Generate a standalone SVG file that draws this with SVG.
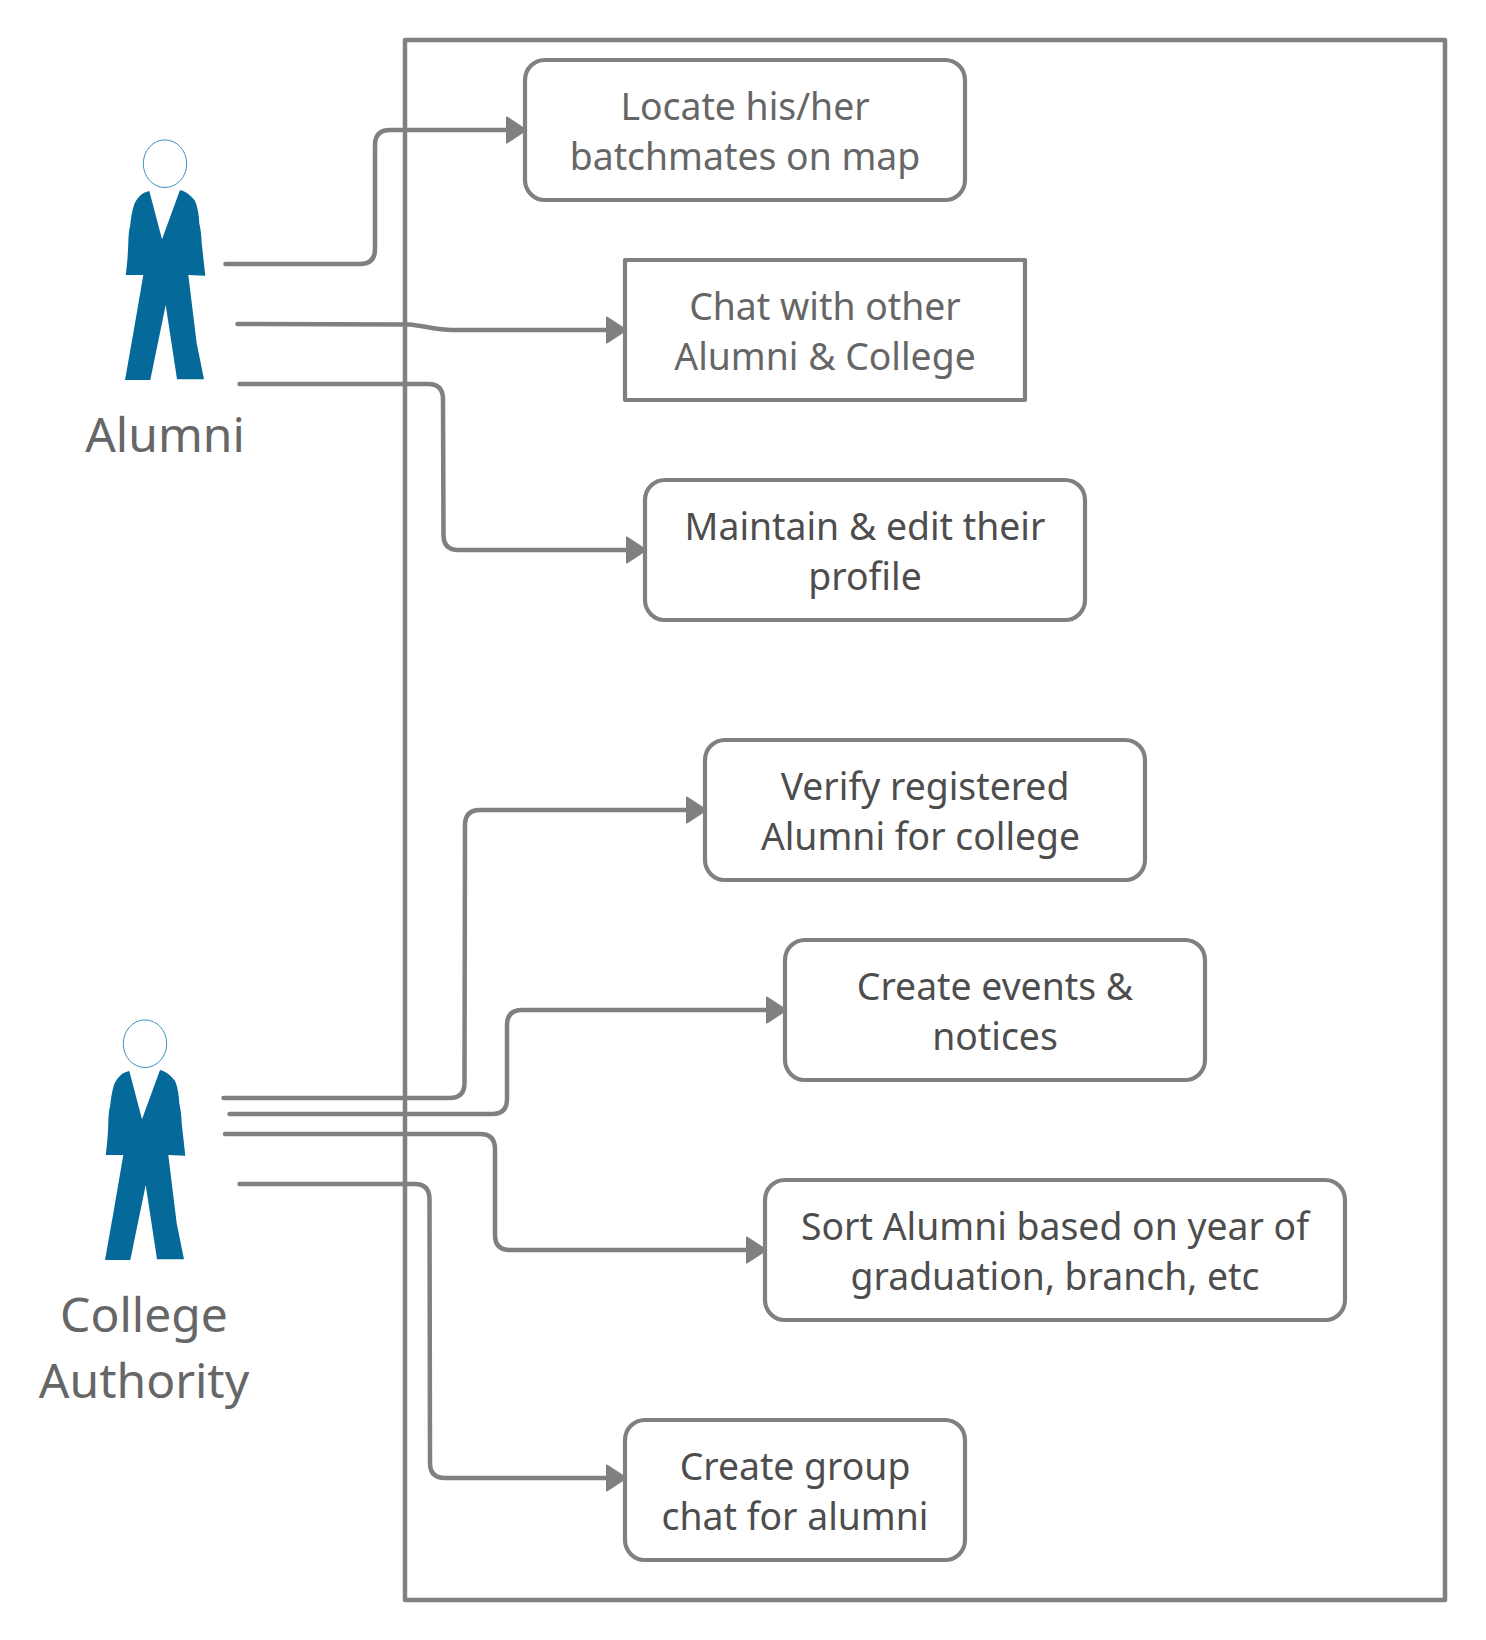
<svg xmlns="http://www.w3.org/2000/svg" xmlns:xlink="http://www.w3.org/1999/xlink" width="1486" height="1640" viewBox="0 0 1486 1640">
<style>
.box{fill:#fff;stroke:#808080;stroke-width:4.2;stroke-linejoin:round}
.frame{fill:none;stroke:#808080;stroke-width:4.5;stroke-linejoin:round}
.conn{fill:none;stroke:#808080;stroke-width:4.5;stroke-linecap:round;marker-end:url(#arrow)}
.t{font-family:"Noto Sans",sans-serif;font-size:37.33px;text-anchor:middle}
.light{fill:#666}
.dark{fill:#4d4d4d}
.actor{font-family:"Noto Sans",sans-serif;font-size:48px;text-anchor:middle;fill:#666}
.head{fill:#fff;stroke:#3f92c2;stroke-width:1}
.body{fill:#05699a}
</style>
<defs>
<marker id="arrow" markerUnits="userSpaceOnUse" markerWidth="30" markerHeight="34" refX="21" refY="15" orient="auto">
<path d="M3 2.500 L22 15 L3 27.500 Z" fill="#808080" stroke="#808080" stroke-width="2" stroke-linejoin="round"/>
</marker>
<g id="person">
<ellipse class="head" cx="165" cy="163.7" rx="21.7" ry="23.8"/>
<path class="body" d="M149.3 191 L162 239.3 L180 190 C187 192 191 196 195 200.7 C198 208 199 216 199.3 223.3 C201 231 201.5 237 201.7 243.3 L205.3 275.7 L188.3 275 L196.7 343.3 L204 379.3 L177 379.3 L165.7 305 L150.3 380 L125 380 L133 335 L143.3 275 L125.7 275 C127.5 262 128 252 128.3 243.3 C128.6 235 129 230 130 226.7 C131 218 132 211 134 205 C136 200 140 193 149.3 191 Z"/>
</g>
</defs>
<rect width="1486" height="1640" fill="#fff"/>
<rect id="system-boundary" class="frame" x="405" y="40" width="1040" height="1560"/>
<g id="alumni">
<use href="#person" xlink:href="#person"/>
<text class="actor" x="165" y="451.5">Alumni</text>
</g>
<g id="college-authority">
<use href="#person" xlink:href="#person" transform="translate(-20,880)"/>
<text class="actor" x="144" y="1332">College</text>
<text class="actor" x="144" y="1398">Authority</text>
</g>
<g id="locate-batchmates">
<rect class="box" x="525" y="60" width="440" height="140" rx="20" ry="20"/>
<text class="t light" x="745" y="120">Locate his/her</text>
<text class="t light" x="745" y="169.5">batchmates on map</text>
</g>
<g id="chat">
<rect class="box" x="625" y="260" width="400" height="140"/>
<text class="t light" x="825" y="319.5">Chat with other</text>
<text class="t light" x="825" y="370">Alumni &amp; College</text>
</g>
<g id="maintain-profile">
<rect class="box" x="645" y="480" width="440" height="140" rx="20" ry="20"/>
<text class="t dark" x="865" y="539.5">Maintain &amp; edit their</text>
<text class="t dark" x="865" y="590">profile</text>
</g>
<g id="verify-alumni">
<rect class="box" x="705" y="740" width="440" height="140" rx="20" ry="20"/>
<text class="t dark" x="925" y="799.5">Verify registered</text>
<text class="t dark" x="920.5" y="850">Alumni for college</text>
</g>
<g id="create-events">
<rect class="box" x="785" y="940" width="420" height="140" rx="20" ry="20"/>
<text class="t dark" x="995" y="999.5">Create events &amp;</text>
<text class="t dark" x="995" y="1050">notices</text>
</g>
<g id="sort-alumni">
<rect class="box" x="765" y="1180" width="580" height="140" rx="20" ry="20"/>
<text class="t dark" x="1055" y="1239.5">Sort Alumni based on year of</text>
<text class="t dark" x="1055" y="1290">graduation, branch, etc</text>
</g>
<g id="create-group-chat">
<rect class="box" x="625" y="1420" width="340" height="140" rx="20" ry="20"/>
<text class="t dark" x="795" y="1479.5">Create group</text>
<text class="t dark" x="795" y="1530">chat for alumni</text>
</g>
<g id="connectors">
<path class="conn" d="M225.500 264 H360 Q375 264 375 249 V145 Q375 130 390 130 H525"/>
<path class="conn" d="M237.500 324 L408 324.500 C425 325.500 435 330 452 330 H625"/>
<path class="conn" d="M239.500 384 H428 Q443 384 443 399 L443.500 535 Q443.500 550 458.500 550 H645"/>
<path class="conn" d="M223.500 1098 H449.500 Q464.500 1098 464.500 1083 L465 825 Q465 810 480 810 H705"/>
<path class="conn" d="M229.500 1114 H492 Q507 1114 507 1099 V1025 Q507 1010 522 1010 H785"/>
<path class="conn" d="M225 1134 H480 Q495 1134 495 1149 V1235 Q495 1250 510 1250 H765"/>
<path class="conn" d="M239.500 1184 H414.500 Q429.500 1184 429.500 1199 L430 1463 Q430 1478 445 1478 H625"/>
</g>
</svg>
